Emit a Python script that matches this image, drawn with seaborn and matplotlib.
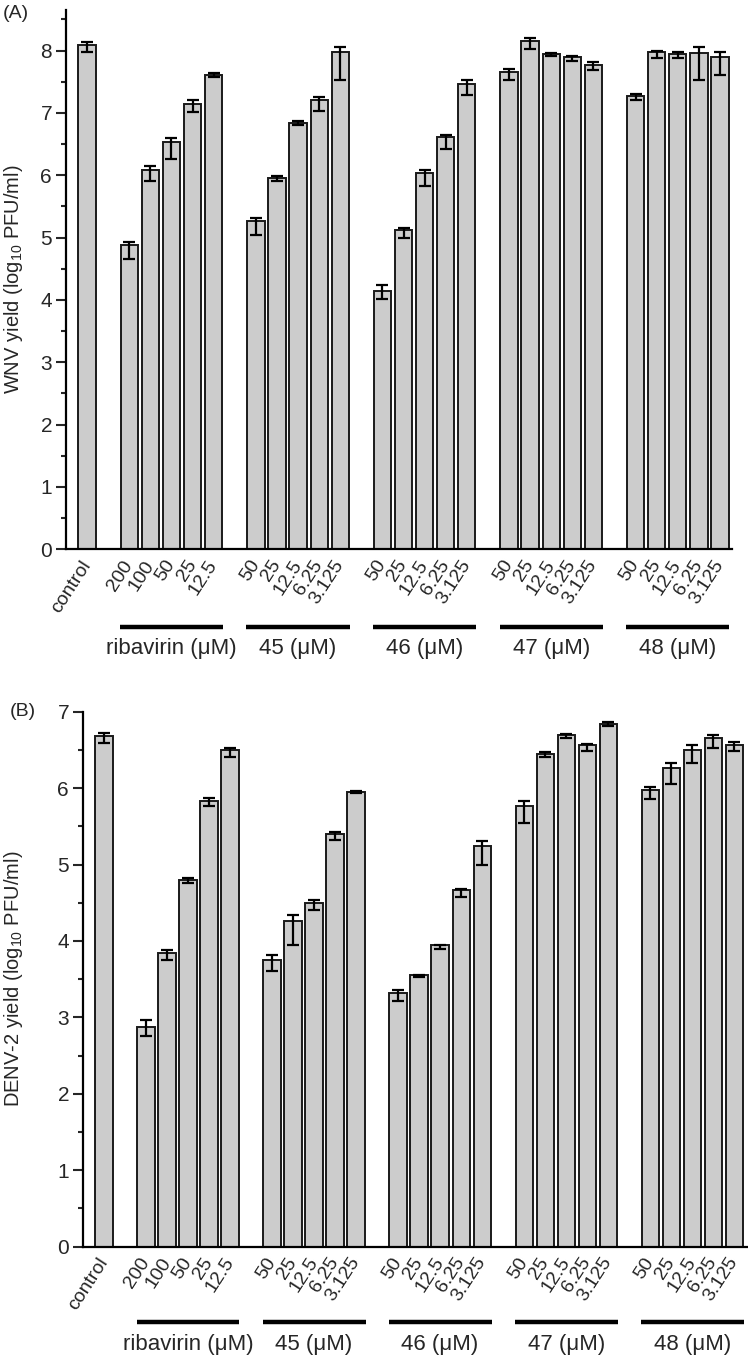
# -*- coding: utf-8 -*-
"""
Virus yield reduction - WNV (A) and DENV-2 (B) for ribavirin and compounds 45-48
"""

import numpy as np
import matplotlib.pyplot as plt
import matplotlib.transforms as mtransforms
import seaborn as sns

custom_params = {"axes.spines.right": False, "axes.spines.top": False}
sns.set_theme(style="ticks", rc=custom_params)

from matplotlib import rcParams
rcParams['font.family'] = ['Liberation Sans', 'DejaVu Sans']
rcParams['mathtext.fontset'] = 'custom'
rcParams['mathtext.rm'] = 'Liberation Sans'

#%% Data

control_label = "control"
group_names = ["ribavirin (μM)", "45 (μM)", "46 (μM)", "47 (μM)", "48 (μM)"]
dose_labels = [["200", "100", "50", "25", "12.5"],
               ["50", "25", "12.5", "6.25", "3.125"],
               ["50", "25", "12.5", "6.25", "3.125"],
               ["50", "25", "12.5", "6.25", "3.125"],
               ["50", "25", "12.5", "6.25", "3.125"]]

# WNV yield, log10 PFU/ml (bar height, upper error, lower error)
wnv_control = [8.09, 0.05, 0.12]
wnv_mean = [[4.88, 6.08, 6.53, 7.15, 7.61],
            [5.26, 5.95, 6.84, 7.20, 7.97],
            [4.15, 5.12, 6.03, 6.61, 7.47],
            [7.66, 8.16, 7.95, 7.89, 7.77],
            [7.27, 7.97, 7.94, 7.96, 7.89]]
wnv_up = [[0.05, 0.06, 0.07, 0.06, 0.03],
          [0.05, 0.04, 0.03, 0.05, 0.09],
          [0.09, 0.03, 0.05, 0.04, 0.06],
          [0.04, 0.04, 0.01, 0.02, 0.04],
          [0.03, 0.03, 0.03, 0.09, 0.08]]
wnv_down = [[0.23, 0.18, 0.27, 0.14, 0.04],
            [0.22, 0.05, 0.04, 0.17, 0.45],
            [0.13, 0.13, 0.20, 0.19, 0.19],
            [0.13, 0.13, 0.04, 0.05, 0.09],
            [0.06, 0.09, 0.06, 0.44, 0.29]]

# DENV-2 yield, log10 PFU/ml
denv_control = [6.68, 0.04, 0.09]
denv_mean = [[2.87, 3.84, 4.80, 5.83, 6.50],
             [3.75, 4.26, 4.50, 5.40, 5.95],
             [3.32, 3.55, 3.94, 4.66, 5.24],
             [5.76, 6.45, 6.69, 6.56, 6.84],
             [5.97, 6.26, 6.50, 6.65, 6.56]]
denv_up = [[0.09, 0.04, 0.02, 0.04, 0.02],
           [0.06, 0.08, 0.04, 0.03, 0.01],
           [0.04, 0.01, 0.01, 0.02, 0.07],
           [0.07, 0.02, 0.02, 0.02, 0.02],
           [0.04, 0.07, 0.07, 0.04, 0.04]]
denv_down = [[0.12, 0.09, 0.04, 0.07, 0.09],
             [0.15, 0.31, 0.09, 0.08, 0.02],
             [0.11, 0.02, 0.04, 0.08, 0.24],
             [0.22, 0.04, 0.04, 0.08, 0.03],
             [0.11, 0.21, 0.17, 0.13, 0.07]]


def yield_panel(ax, control, means, up, down, ylabel, ymax, xmax, ylab_x,
                line_y=-0.145, label_y=-0.184):
    # control sits at 0, each group of 5 starts after a one-bar gap
    pos = [0]
    vals = [control[0]]
    ups = [control[1]]
    downs = [control[2]]
    ticklabels = [control_label]
    for g in range(len(group_names)):
        for i in range(len(means[g])):
            pos.append(2 + 6*g + i)
            vals.append(means[g][i])
            ups.append(up[g][i])
            downs.append(down[g][i])
            ticklabels.append(dose_labels[g][i])

    sns.barplot(x=pos, y=vals, native_scale=True, width=0.82,
                color="#cccccc", saturation=1, edgecolor="#1a1a1a",
                linewidth=1.4, errorbar=None, ax=ax)
    ax.errorbar(pos, vals, yerr=[downs, ups], fmt="none", ecolor="black",
                elinewidth=1.6, capsize=4.5, capthick=1.6)

    ax.set_xlim(-1, xmax)
    ax.set_ylim(0, ymax)
    ax.set_yticks(np.arange(0, int(ymax) + 1))
    ax.set_yticks(np.arange(0.5, ymax, 1), minor=True)
    ax.tick_params(axis="y", which="major", length=7, width=1.5,
                   labelsize=15, pad=3)
    ax.tick_params(axis="y", which="minor", length=3.5, width=1.5)
    ax.tick_params(axis="x", length=0, pad=9)
    ax.set_xticks(pos)
    ax.set_xticklabels(ticklabels, rotation=57, ha="right", va="center",
                       rotation_mode="anchor", fontsize=14)
    ax.set_ylabel(ylabel, fontsize=14.5)
    ax.yaxis.set_label_coords(ylab_x, 0.5)
    ax.set_xlabel("")
    for s in ["left", "bottom"]:
        ax.spines[s].set_linewidth(1.6)
        ax.spines[s].set_color("black")

    # group bars + names under the tick labels
    trans = mtransforms.blended_transform_factory(ax.transData, ax.transAxes)
    for g, name in enumerate(group_names):
        x0 = 2 + 6*g - 0.45
        x1 = 2 + 6*g + 4 + 0.45
        ax.plot([x0, x1], [line_y, line_y], color="black", lw=3.2,
                transform=trans, clip_on=False, solid_capstyle="butt")
        ax.text((x0 + x1)/2, label_y, name, transform=trans, ha="center",
                va="center", fontsize=16)


#%% Figure

fig = plt.figure(figsize=(7.48, 13.56), dpi=100)
W, H = 748, 1356

ax1 = fig.add_axes([66/W, 1 - 549.3/H, (732 - 66)/W, (549.3 - 10)/H])
yield_panel(ax1, wnv_control, wnv_mean, wnv_up, wnv_down,
            "WNV yield (log$_{\\mathrm{10}}$ PFU/ml)", ymax=8.65, xmax=30.57,
            ylab_x=(25 - 66)/666)

ax2 = fig.add_axes([83/W, 1 - 1246.5/H, (751 - 83)/W, (1246.5 - 711.7)/H])
yield_panel(ax2, denv_control, denv_mean, denv_up, denv_down,
            "DENV-2 yield (log$_{\\mathrm{10}}$ PFU/ml)", ymax=7, xmax=30.8,
            ylab_x=(25 - 83)/668, line_y=-0.142, label_y=-0.183)

fig.text(3/W, 1 - 13/H, "(A)", fontsize=14, va="center", ha="left")
fig.text(10/W, 1 - 712/H, "(B)", fontsize=14, va="center", ha="left")

fig.savefig("out.png", dpi=100)
